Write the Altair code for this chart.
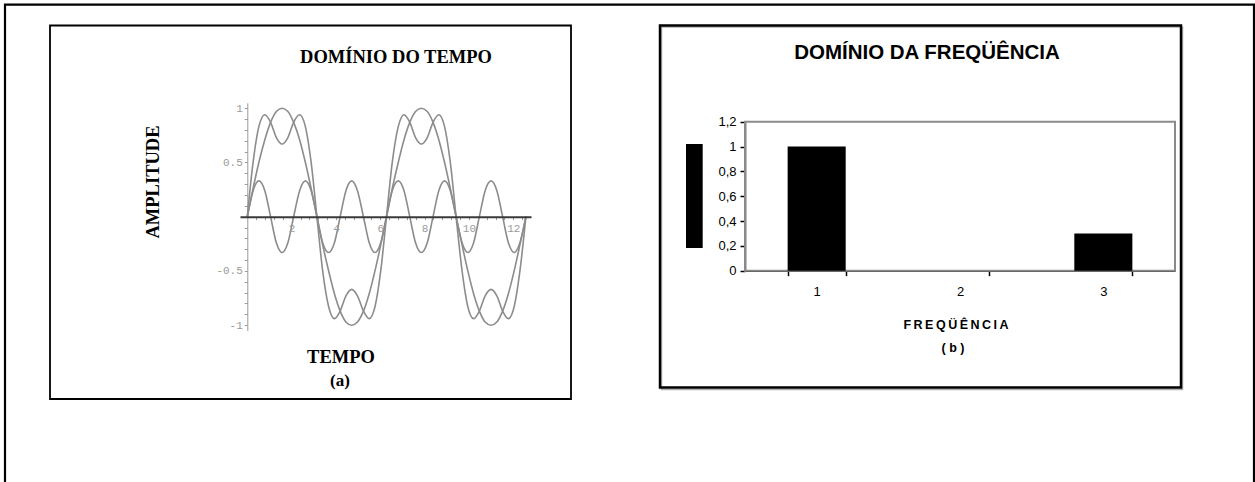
import altair as alt
import pandas as pd

W, H = 1255, 482

# ---- (a) time domain: samples of the three waveforms ----
tempo = [0.00, 0.26, 0.52, 0.79, 1.05, 1.31, 1.57, 1.83, 2.09, 2.36, 2.62, 2.88,
         3.14, 3.40, 3.67, 3.93, 4.19, 4.45, 4.71, 4.97, 5.24, 5.50, 5.76, 6.02,
         6.28, 6.54, 6.81, 7.07, 7.33, 7.59, 7.85, 8.12, 8.38, 8.64, 8.90, 9.16,
         9.42, 9.69, 9.95, 10.21, 10.47, 10.73, 11.00, 11.26, 11.52, 11.78, 12.04, 12.30,
         12.57]

fundamental = [0, 0.26, 0.5, 0.71, 0.87, 0.97, 1, 0.97, 0.87, 0.71, 0.5, 0.26,
               0, -0.26, -0.5, -0.71, -0.87, -0.97, -1, -0.97, -0.87, -0.71, -0.5, -0.26,
               0, 0.26, 0.5, 0.71, 0.87, 0.97, 1, 0.97, 0.87, 0.71, 0.5, 0.26,
               0, -0.26, -0.5, -0.71, -0.87, -0.97, -1, -0.97, -0.87, -0.71, -0.5, -0.26,
               0]

terceira = [0, 0.24, 0.33, 0.24, 0, -0.24, -0.33, -0.24,
            0, 0.24, 0.33, 0.24, 0, -0.24, -0.33, -0.24,
            0, 0.24, 0.33, 0.24, 0, -0.24, -0.33, -0.24,
            0, 0.24, 0.33, 0.24, 0, -0.24, -0.33, -0.24,
            0, 0.24, 0.33, 0.24, 0, -0.24, -0.33, -0.24,
            0, 0.24, 0.33, 0.24, 0, -0.24, -0.33, -0.24,
            0]

soma = [0, 0.5, 0.83, 0.94, 0.87, 0.73, 0.67, 0.73, 0.87, 0.94, 0.83, 0.5,
        0, -0.5, -0.83, -0.94, -0.87, -0.73, -0.67, -0.73, -0.87, -0.94, -0.83, -0.5,
        0, 0.5, 0.83, 0.94, 0.87, 0.73, 0.67, 0.73, 0.87, 0.94, 0.83, 0.5,
        0, -0.5, -0.83, -0.94, -0.87, -0.73, -0.67, -0.73, -0.87, -0.94, -0.83, -0.5,
        0]

tempo_rotulos = [2, 4, 6, 8, 10, 12]
tempo_ticks = [round(0.4 * k, 1) for k in range(1, 32)]
amp_ticks = [round(0.1 * k, 1) for k in range(-10, 11)]

# ---- (b) frequency domain ----
freq_cat = ["1", "2", "3"]
freq_amp = [1.0, 0.0, 0.3]
freq_ticks = [0, 0.2, 0.4, 0.6, 0.8, 1.0, 1.2]

rows = []
for nome, serie in (("fundamental", fundamental), ("terceira", terceira), ("soma", soma)):
    for t, v in zip(tempo, serie):
        rows.append({"serie": nome, "t": t, "v": v})
ondas = pd.DataFrame(rows)
barras = pd.DataFrame({"freq": freq_cat, "amp": freq_amp})

one = alt.Data(values=[{}])

SERIF = "Liberation Serif"
SANS = "Liberation Sans"
MONO = "Liberation Mono"
CINZA = "#9a9a9a"


def caixa(x0, y0, x1, y1, cor="black", largura=2.0):
    return alt.Chart(one).mark_rect(fill=None, stroke=cor, strokeWidth=largura).encode(
        x=alt.value(x0), x2=alt.value(x1), y=alt.value(y0), y2=alt.value(y1))


def rotulo(texto, x, y, font, size, bold=True, angle=0):
    return alt.Chart(one).mark_text(
        text=texto, font=font, fontSize=size,
        fontWeight="bold" if bold else "normal",
        align="center", baseline="middle", angle=angle, color="black",
    ).encode(x=alt.value(x), y=alt.value(y))


# frames
moldura = caixa(5, 4.7, 1254, 520, largura=2.2)
caixa_a = caixa(50, 25.5, 571, 399, largura=1.8)
sombra_b = caixa(661.5, 27, 1182.5, 389.5, cor="#b0b0b0", largura=1.5)
caixa_b = caixa(660, 25.5, 1181, 387.5, largura=2.5)
area_b = caixa(745, 121.7, 1175, 270.7, cor="#8a8a8a", largura=2)
bloco = alt.Chart(one).mark_rect(color="black").encode(
    x=alt.value(686), x2=alt.value(702.7), y=alt.value(144), y2=alt.value(248))

# (a) waveforms
x_tempo = alt.X(
    "t:Q",
    scale=alt.Scale(domain=[-0.33, 12.8], range=[240, 531], nice=False, zero=False),
    axis=alt.Axis(
        orient="bottom", offset=216.7 - H, values=tempo_ticks,
        labelExpr="indexof(%s, datum.value) >= 0 ? '' + datum.value : ''" % str(tempo_rotulos),
        domainColor="#3a3a3a", domainWidth=2, tickColor=CINZA, tickSize=3, tickWidth=1,
        labelFont=MONO, labelFontSize=11, labelColor=CINZA, labelPadding=3,
        labelOverlap=False, labelFlush=False, grid=False, title=None, zindex=1,
    ),
)
y_tempo = alt.Y(
    "v:Q",
    scale=alt.Scale(domain=[-1.05, 1.05], range=[330.6, 102.8], nice=False, zero=False),
    axis=alt.Axis(
        orient="left", offset=-247.3, values=amp_ticks,
        labelExpr="datum.value == 1 ? '1' : datum.value == 0.5 ? '0.5' : "
                  "datum.value == -0.5 ? '-0.5' : datum.value == -1 ? '-1' : ''",
        domainColor=CINZA, domainWidth=1, tickColor=CINZA, tickSize=3, tickWidth=1,
        labelFont=MONO, labelFontSize=11, labelColor=CINZA, labelPadding=2,
        labelOverlap=False, labelFlush=False, grid=False, title=None,
    ),
)
curvas = alt.Chart(ondas).mark_line(
    color="#8c8c8c", strokeWidth=1.6, interpolate="monotone"
).encode(x=x_tempo, y=y_tempo, detail="serie:N", order="t:Q")

# (b) spectrum bars
x_freq = alt.X(
    "freq:N",
    scale=alt.Scale(domain=freq_cat, range=[745, 1175], paddingInner=0.595, paddingOuter=0.2975),
    axis=alt.Axis(
        orient="bottom", offset=270.7 - H, tickBand="extent",
        domainColor="black", domainWidth=1.5, tickColor="black", tickWidth=1.5, tickSize=5,
        labelFont=SANS, labelFontSize=13, labelColor="black", labelPadding=10,
        labelAngle=0, grid=False, title=None,
    ),
)
y_freq = alt.Y(
    "amp:Q",
    scale=alt.Scale(domain=[0, 1.2], range=[270.7, 121.7], nice=False),
    axis=alt.Axis(
        orient="left", offset=-745, values=freq_ticks,
        labelExpr="replace(format(datum.value, '.1~f'), '.', ',')",
        domainColor="black", domainWidth=1.5, tickColor="black", tickWidth=1.5, tickSize=5,
        labelFont=SANS, labelFontSize=13, labelColor="black", labelPadding=4,
        labelOverlap=False, labelFlush=False, grid=False, title=None,
    ),
)
barras_ch = alt.Chart(barras).mark_bar(color="black").encode(x=x_freq, y=y_freq)

textos = [
    rotulo("DOMÍNIO DO TEMPO", 396, 57, SERIF, 18.5),
    rotulo("AMPLITUDE", 153, 182, SERIF, 18.5, angle=270),
    rotulo("TEMPO", 341, 357, SERIF, 18.5),
    rotulo("(a)", 340, 381, SERIF, 17),
    rotulo("DOMÍNIO DA FREQÜÊNCIA", 927, 53, SANS, 20.5),
    rotulo("F\u2009R\u2009E\u2009Q\u2009Ü\u2009Ê\u2009N\u2009C\u2009I\u2009A", 956, 325, SANS, 12.5),
    rotulo("( b )", 953, 348, SANS, 12.5),
]

chart = alt.layer(
    moldura, caixa_a, sombra_b, caixa_b, area_b, bloco, curvas, barras_ch, *textos
).resolve_scale(
    x="independent", y="independent"
).resolve_axis(
    x="independent", y="independent"
).properties(
    width=W, height=H, padding=0, background="white",
    autosize=alt.AutoSizeParams(type="none"),
).configure_view(stroke=None)

chart.save("out.html", embed_options={"renderer": "svg", "actions": False})
